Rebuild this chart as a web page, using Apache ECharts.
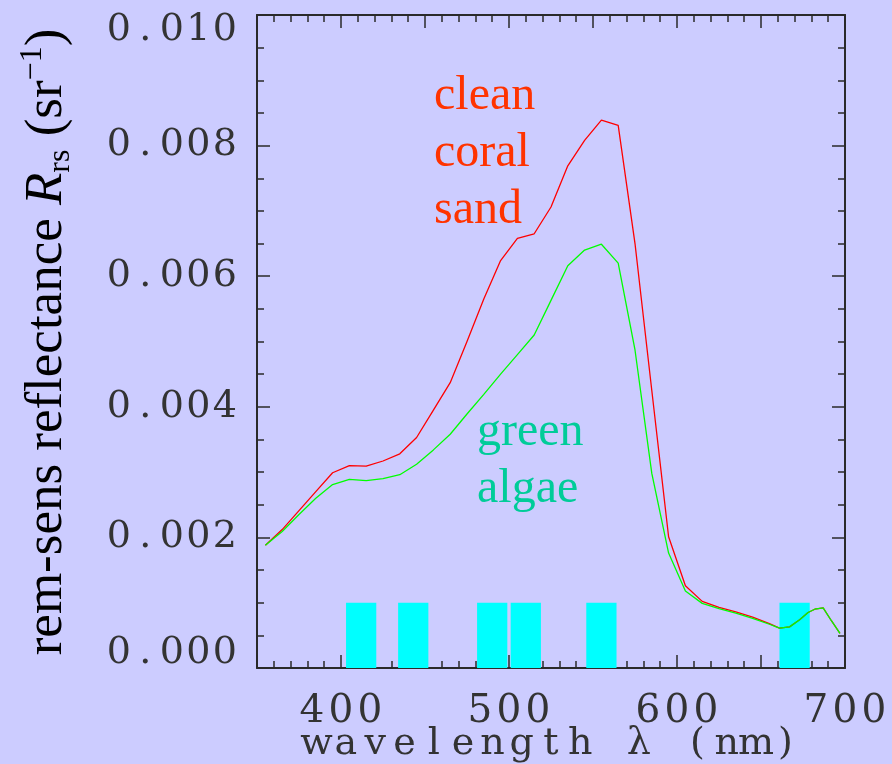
<!DOCTYPE html>
<html>
<head>
<meta charset="utf-8">
<script src="https://cdn.jsdelivr.net/npm/echarts@6/dist/echarts.min.js"></script>
<style>
  html, body { margin: 0; padding: 0; background: #ccccff; }
  #main { width: 892px; height: 764px; }
</style>
</head>
<body>
<div id="main"></div>
<script>
// Wavelength samples (nm)
const wavelengths = [355, 365, 375, 385, 395, 405, 415, 425, 435, 445, 455, 465, 475, 485, 495,
  505, 515, 525, 535, 545, 555, 565, 575, 585, 595, 605, 615, 625, 635, 645, 655,
  661, 667, 673, 678, 682, 687, 692, 697];

// Remote-sensing reflectance Rrs (1/sr) over clean coral sand
const coralSand = [0.00188, 0.00212, 0.00241, 0.00270, 0.00299, 0.00310, 0.00309, 0.00317, 0.00328, 0.00353,
  0.00395, 0.00437, 0.00500, 0.00565, 0.00624, 0.00658, 0.00665, 0.00706, 0.00769, 0.00808,
  0.00839, 0.00831, 0.00650, 0.00425, 0.00201, 0.00126, 0.00102, 0.00093, 0.00086, 0.00078,
  0.00068, 0.00061, 0.00063, 0.00074, 0.00085, 0.00090, 0.00092, 0.00072, 0.00053];

// Remote-sensing reflectance Rrs (1/sr) over green algae
const greenAlgae = [0.00188, 0.00209, 0.00235, 0.00260, 0.00281, 0.00289, 0.00287, 0.00290, 0.00296, 0.00312,
  0.00334, 0.00358, 0.00389, 0.00419, 0.00450, 0.00480, 0.00510, 0.00563, 0.00616, 0.00640,
  0.00649, 0.00620, 0.00487, 0.00298, 0.00176, 0.00118, 0.00099, 0.00091, 0.00084, 0.00076,
  0.00067, 0.00061, 0.00063, 0.00074, 0.00085, 0.00090, 0.00092, 0.00072, 0.00053];

// Sensor band centres (nm), band width (nm) and marker height (1/sr)
const bandCenters = [412, 443, 490, 510, 555, 670];
const bandWidth = 18;
const bandHeight = 0.001;

// Tick labels
const xTickLabels = ['400', '500', '600', '700'];
const yTickLabels = ['0.000', '0.002', '0.004', '0.006', '0.008', '0.010'];

const INK = '#2a2a2a';
const LABEL_INK = '#333333';

// Lay each character in a fixed-width cell for the wide, evenly spaced lettering
function spread(str, style) {
  return str.split('').map(ch => '{' + style + '|' + ch + '}').join('');
}

const cell = (w, size, lh) => ({
  width: w, align: 'center', lineHeight: lh,
  fontFamily: 'DejaVu Serif', fontSize: size, color: LABEL_INK
});

const chart = echarts.init(document.getElementById('main'), null, { renderer: 'canvas' });

const tickStyle = { color: INK, width: 1.5 };
const baseX = {
  type: 'value', min: 350, max: 700, interval: 50,
  axisLine: { show: true, onZero: false, lineStyle: { color: INK, width: 2 } },
  axisTick: { show: true, inside: true, length: 13, lineStyle: tickStyle },
  minorTick: { show: true, splitNumber: 5, length: 7, lineStyle: tickStyle },
  splitLine: { show: false }
};
const baseY = {
  type: 'value', min: 0, max: 0.010, interval: 0.002,
  axisLine: { show: true, onZero: false, lineStyle: { color: INK, width: 2 } },
  axisTick: { show: true, inside: true, length: 13, lineStyle: tickStyle },
  minorTick: { show: true, splitNumber: 4, length: 7, lineStyle: tickStyle },
  splitLine: { show: false }
};

chart.setOption({
  animation: false,
  backgroundColor: '#ccccff',
  grid: { left: 257, right: 47, top: 15, bottom: 96, containLabel: false, outerBoundsMode: 'none' },
  xAxis: [
    Object.assign({}, baseX, {
      position: 'bottom',
      axisLabel: {
        margin: 28,
        formatter: v => xTickLabels.includes(String(v)) ? spread(String(v), 'd') : '',
        rich: { d: cell(29, 39, 32) }
      },
      name: spread('wavelength λ (nm)', 't'),
      nameLocation: 'middle',
      nameGap: 59,
      nameMoveOverlap: false,
      nameTextStyle: { rich: { t: cell(29.3, 38, 34) } }
    }),
    Object.assign({}, baseX, { position: 'top', axisLabel: { show: false } })
  ],
  yAxis: [
    Object.assign({}, baseY, {
      position: 'left',
      axisLabel: {
        margin: 19,
        formatter: v => {
          const s = v.toFixed(3);
          return yTickLabels.includes(s) ? spread(s, 'd') : '';
        },
        verticalAlignMaxLabel: 'top',
        verticalAlignMinLabel: 'bottom',
        rich: { d: cell(26.5, 38, 30) }
      }
    }),
    Object.assign({}, baseY, { position: 'right', axisLabel: { show: false } })
  ],
  graphic: [
    {
      type: 'text', x: 47, y: 342, rotation: Math.PI / 2,
      style: {
        text: '{n|rem-sens reflectance }{it|R}{sub|rs}{n| (sr}{sup|−1}{n|)}',
        align: 'center', verticalAlign: 'middle',
        rich: {
          n: { fontFamily: 'Liberation Serif', fontSize: 53, color: INK, lineHeight: 60 },
          it: { fontFamily: 'Liberation Serif', fontStyle: 'italic', fontSize: 53, color: INK, lineHeight: 60 },
          sub: { fontFamily: 'Liberation Serif', fontSize: 32, color: INK, lineHeight: 38, verticalAlign: 'bottom' },
          sup: { fontFamily: 'Liberation Serif', fontSize: 32, color: INK, lineHeight: 38, verticalAlign: 'top' }
        }
      }
    },
    {
      type: 'text', x: 434, y: 68,
      style: {
        text: 'clean\ncoral\nsand',
        fontFamily: 'Liberation Serif', fontSize: 48, lineHeight: 57,
        fill: '#ff3300', align: 'left', verticalAlign: 'top'
      }
    },
    {
      type: 'text', x: 477, y: 404,
      style: {
        text: 'green\nalgae',
        fontFamily: 'Liberation Serif', fontSize: 48, lineHeight: 57,
        fill: '#00cc99', align: 'left', verticalAlign: 'top'
      }
    }
  ],
  series: [
    {
      name: 'bands', type: 'custom', z: 1, silent: true,
      data: bandCenters.map(c => [c, bandHeight, bandWidth]),
      encode: { x: 0, y: 1 },
      renderItem(params, api) {
        const c = api.value(0), h = api.value(1), w = api.value(2);
        const p0 = api.coord([c - w / 2, h]);
        const p1 = api.coord([c + w / 2, 0]);
        return {
          type: 'rect',
          shape: { x: p0[0], y: p0[1], width: p1[0] - p0[0], height: p1[1] - p0[1] },
          style: { fill: '#00ffff' }
        };
      }
    },
    {
      name: 'clean coral sand', type: 'line', z: 3,
      data: wavelengths.map((w, i) => [w, coralSand[i]]),
      showSymbol: false, symbol: 'none',
      lineStyle: { color: '#ff0000', width: 1.3 }
    },
    {
      name: 'green algae', type: 'line', z: 4,
      data: wavelengths.map((w, i) => [w, greenAlgae[i]]),
      showSymbol: false, symbol: 'none',
      lineStyle: { color: '#00ff00', width: 1.3 }
    }
  ]
});
</script>
</body>
</html>
